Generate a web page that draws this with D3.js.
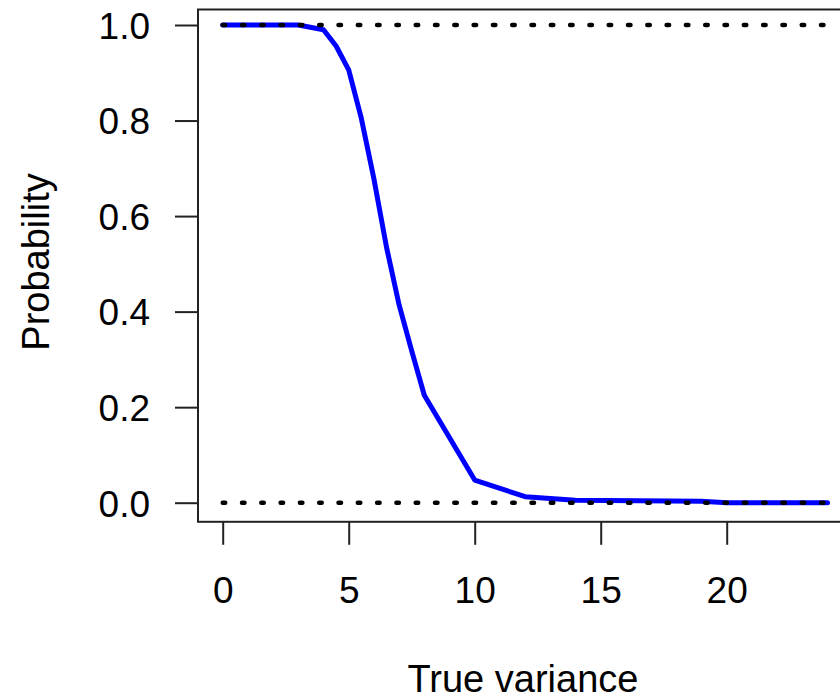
<!DOCTYPE html>
<html>
<head>
<meta charset="utf-8">
<script src="https://cdn.jsdelivr.net/npm/d3@7"></script>
<style>
  html, body { margin: 0; padding: 0; background: #fff; }
  svg { display: block; }
  text { font-family: "Liberation Sans", Arial, sans-serif; fill: #000; }
</style>
</head>
<body>
<svg id="chart" width="840" height="700"></svg>
<script>
// ---- data ----
const variance    = [0, 1, 2, 3, 4, 4.5, 5, 5.5, 6, 6.5, 7, 7.5, 8, 10, 12, 14, 19, 20, 24];
const probability = [1, 1, 1, 1, 0.99, 0.956, 0.906, 0.805, 0.678, 0.535, 0.414, 0.318, 0.225, 0.0475, 0.0126, 0.005, 0.003, 0.0, 0.0];
const refLevels   = [0, 1];
const refRange    = [0, 24];
const xTicks      = [0, 5, 10, 15, 20];
const yTicks      = [0, 0.2, 0.4, 0.6, 0.8, 1.0];
const yTickLabels = ["0.0", "0.2", "0.4", "0.6", "0.8", "1.0"];
const xTitle = "True variance";
const yTitle = "Probability";

// ---- layout ----
const box = { left: 198, right: 852, top: 9.5, bottom: 521.8 };
const svg = d3.select("#chart");
const x = d3.scaleLinear().domain([0, 24]).range([222.7, 222.7 + 24 * 25.2]);
const y = d3.scaleLinear().domain([0, 1]).range([502.7, 25]);
const tickFont = 37;
const titleFont = 38;
const tickLen = 23;

svg.append("rect").attr("width", 840).attr("height", 700).attr("fill", "#fff");

// curve
const pts = variance.map((v, i) => [v, probability[i]]);
svg.append("path")
  .datum(pts)
  .attr("fill", "none")
  .attr("stroke", "#0000ff")
  .attr("stroke-width", 5)
  .attr("stroke-linejoin", "round")
  .attr("stroke-linecap", "round")
  .attr("d", d3.line().x(d => x(d[0])).y(d => y(d[1])));

// dotted reference lines
refLevels.forEach(lv => {
  svg.append("path")
    .datum(refRange.map(r => [r, lv]))
    .attr("fill", "none")
    .attr("stroke", "#000")
    .attr("stroke-width", 4.5)
    .attr("stroke-linecap", "round")
    .attr("stroke-dasharray", "2.5 16.8")
    .attr("d", d3.line().x(d => x(d[0])).y(d => y(d[1])));
});

// box
svg.append("rect")
  .attr("x", box.left).attr("y", box.top)
  .attr("width", box.right - box.left).attr("height", box.bottom - box.top)
  .attr("fill", "none").attr("stroke", "#222").attr("stroke-width", 2);

// x axis
const gx = svg.append("g")
  .attr("transform", `translate(0,${box.bottom})`)
  .call(d3.axisBottom(x).tickValues(xTicks).tickSize(tickLen).tickSizeOuter(0).tickFormat(d3.format("d")));
gx.select(".domain").remove();
gx.selectAll(".tick line").attr("stroke", "#222").attr("stroke-width", 2);
gx.selectAll(".tick text")
  .attr("y", 603 - box.bottom).attr("dy", null)
  .attr("font-size", tickFont)
  .style("font-family", "'Liberation Sans', Arial, sans-serif")
  .attr("fill", "#000");

// y axis
const gy = svg.append("g")
  .attr("transform", `translate(${box.left},0)`)
  .call(d3.axisLeft(y).tickValues(yTicks).tickSize(tickLen).tickSizeOuter(0)
        .tickFormat((d, i) => yTickLabels[i]));
gy.select(".domain").remove();
gy.selectAll(".tick line").attr("stroke", "#222").attr("stroke-width", 2);
gy.selectAll(".tick text")
  .attr("x", 150 - box.left).attr("dy", "0.36em")
  .attr("text-anchor", "end")
  .attr("font-size", tickFont)
  .style("font-family", "'Liberation Sans', Arial, sans-serif")
  .attr("fill", "#000");

// titles
svg.append("text")
  .attr("x", (box.left + box.right) / 2 - 2).attr("y", 692)
  .attr("text-anchor", "middle").attr("font-size", titleFont)
  .text(xTitle);
svg.append("text")
  .attr("transform", `translate(49,262) rotate(-90)`)
  .attr("text-anchor", "middle").attr("font-size", titleFont)
  .text(yTitle);
</script>
</body>
</html>
